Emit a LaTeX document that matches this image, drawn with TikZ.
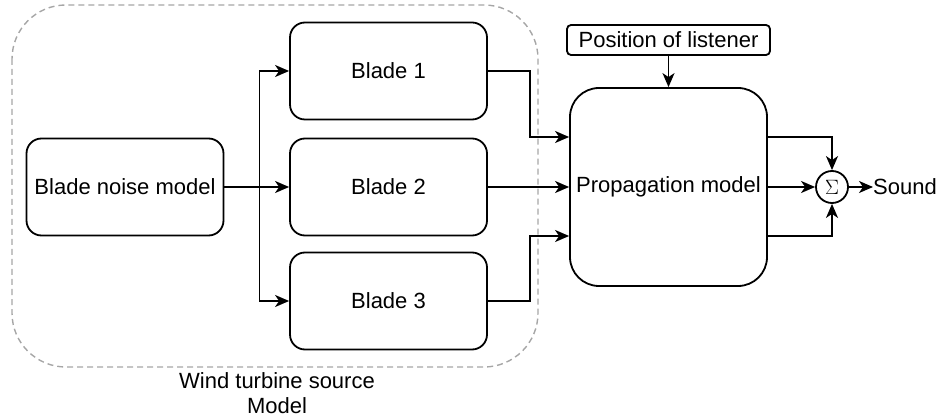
\documentclass[tikz,border=0pt]{standalone}
\usepackage{fontspec}
\setmainfont{Liberation Sans}
\usetikzlibrary{arrows.meta,calc}
\begin{document}
\begin{tikzpicture}[x=1pt,y=-1pt,
  every node/.style={font=\fontsize{22}{25}\selectfont},
  block/.style={draw, line width=1.8pt, rounded corners=15pt, minimum width=197pt, minimum height=97pt, inner sep=0pt},
  bigblock/.style={draw, line width=1.8pt, rounded corners=29pt, minimum width=197pt, minimum height=198pt, inner sep=0pt},
  smallblock/.style={draw, line width=1.8pt, rounded corners=4pt, minimum width=203pt, minimum height=30pt, inner sep=0pt},
  sumnode/.style={draw, circle, line width=1.8pt, minimum size=32pt, inner sep=0pt},
  arr/.style={-{Stealth[length=14pt,width=12pt,inset=4pt]}, line width=1.8pt},
  group/.style={draw=gray!70, dash pattern=on 6pt off 4pt, line width=1.4pt, rounded corners=54pt}
]
\useasboundingbox (0,0) rectangle (949,419);

% source group
\draw[group] (12,5) rectangle (538,367);
\node[align=center] (grp) at (277,393) {Wind turbine source\\Model};

% blocks
\node[block] (bnm) at (125,187) {Blade noise model};
\node[block] (b1) at (388.5,71) {Blade 1};
\node[block] (b2) at (388.5,187) {Blade 2};
\node[block] (b3) at (388.5,301) {Blade 3};
\node[bigblock] (prop) at (668.5,187) {Propagation model};
\node[smallblock] (pos) at (668.5,40) {Position of listener};
\node[sumnode] (sum) at (832,187) {\fontsize{20}{20}\selectfont$\Sigma$};
\node[anchor=west, inner sep=0pt] (snd) at (873,187) {Sound};

% fan-out to blades
\draw[arr] (bnm.east) -- (b2.west);
\draw[arr] (bnm.east) -- ++(35,0) |- (b1.west);
\draw[arr] (bnm.east) -- ++(35,0) |- (b3.west);

% blades into propagation
\draw[arr] (b1.east) -- ++(42,0) |- ([yshift=50pt]prop.west);
\draw[arr] (b2.east) -- (prop.west);
\draw[arr] (b3.east) -- ++(42,0) |- ([yshift=-49pt]prop.west);

% listener position
\draw[arr] (pos.south) -- (prop.north);

% summation
\draw[arr] ([yshift=50pt]prop.east) -| (sum.north);
\draw[arr] (prop.east) -- (sum.west);
\draw[arr] ([yshift=-49pt]prop.east) -| (sum.south);
\draw[arr] (sum.east) -- (snd.west);
\end{tikzpicture}
\end{document}
